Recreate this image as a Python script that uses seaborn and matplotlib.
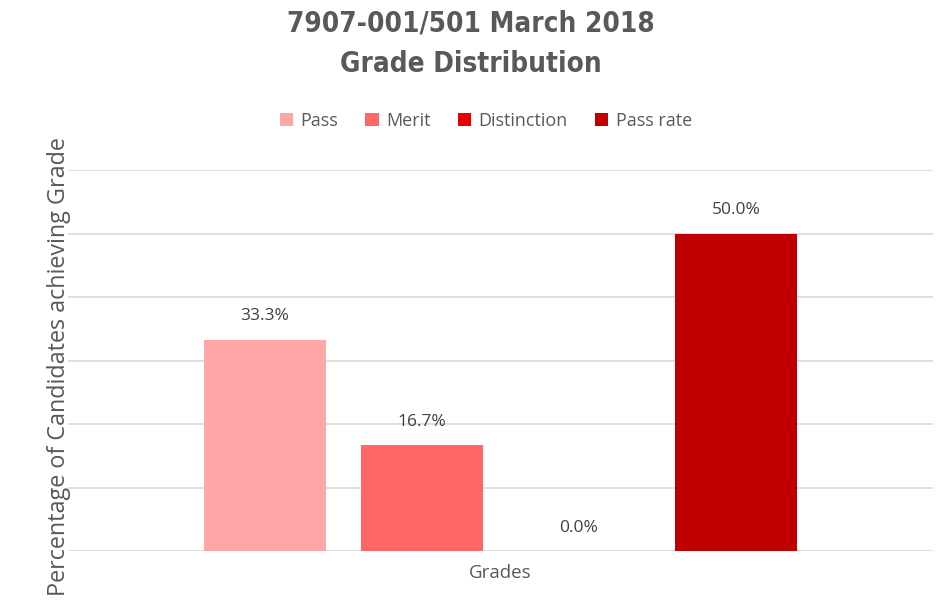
import seaborn as sns
import matplotlib.pyplot as plt
import pandas as pd

# values
series = ['Pass', 'Merit', 'Distinction', 'Pass rate']
values = [33.3, 16.7, 0.0, 50.0]
colours = ['#FFA7A7', '#FF6666', '#E80000', '#C00000']
category = 'Grades'

df = pd.DataFrame({'cat': [category] * len(series), 'series': series, 'value': values})

sns.set_style('white')
plt.rcParams['font.family'] = ['Open Sans', 'DejaVu Sans']
grey = '#595959'

fig = plt.figure(figsize=(9.41, 6.12), dpi=100)
ax = fig.add_axes([68 / 941, 1 - 551 / 612, 865 / 941, 381 / 612])

sns.barplot(data=df, x='cat', y='value', hue='series', hue_order=series,
            palette=colours, saturation=1, width=0.726, gap=0.22,
            linewidth=0, ax=ax, legend=True)

ax.set_ylim(0, 60)
ax.set_xlim(-0.5, 0.5)
ax.set_yticks(range(0, 61, 10))
ax.yaxis.grid(True, color='#D9D9D9', lw=1.2)
ax.set_axisbelow(True)
ax.tick_params(axis='y', left=False, labelleft=False)
ax.tick_params(axis='x', bottom=False, labelsize=13.5, labelcolor=grey, pad=6)
for s in ax.spines.values():
    s.set_visible(False)
ax.set_xlabel('')
ax.set_ylabel('Percentage of Candidates achieving Grade', fontsize=16.8, color=grey)
ax.yaxis.set_label_coords(0.004, 0.485)

for cont in ax.containers:
    ax.bar_label(cont, fmt='%.1f%%', padding=11, fontsize=12.5, color='#404040')

h, l = ax.get_legend_handles_labels()
ax.legend(h, l, loc='center', bbox_to_anchor=(0.483, 1 + (170 - 121) / 381), ncol=4,
          frameon=False, fontsize=13, handlelength=0.75, handleheight=0.75, handletextpad=0.4,
          columnspacing=1.5, labelcolor=grey)

title_font = dict(ha='center', va='center', fontsize=20, fontweight='bold',
                  fontstretch='condensed', color=grey, family=['DejaVu Sans'])
fig.text(0.5, 1 - 23 / 612, '7907-001/501 March 2018', **title_font)
fig.text(0.5, 1 - 64 / 612, 'Grade Distribution', **title_font)

fig.savefig('out.png', dpi=100)
